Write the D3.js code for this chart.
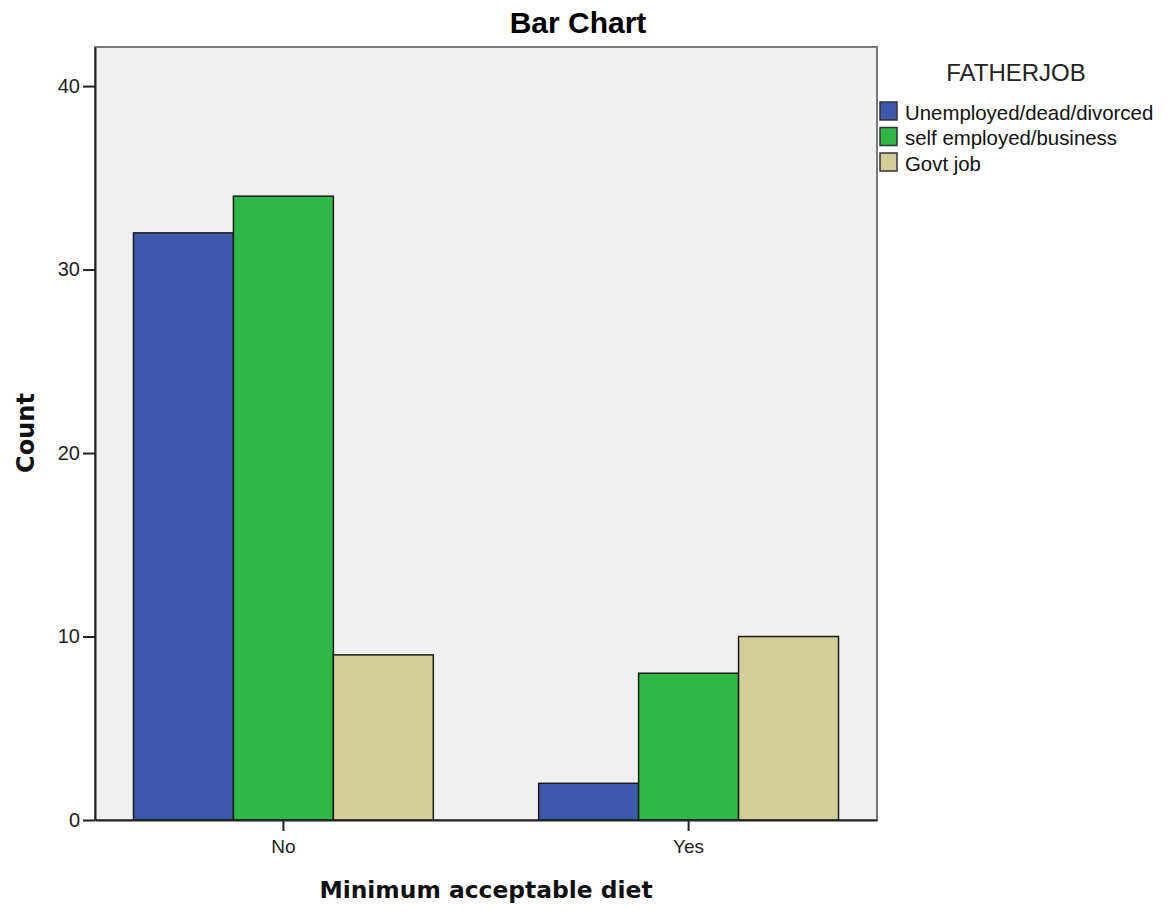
<!DOCTYPE html>
<html><head><meta charset="utf-8">
<script src="https://cdn.jsdelivr.net/npm/d3@7"></script>
<style>body{margin:0;background:#fff;} svg{display:block;}</style>
</head><body>
<svg id="chart" width="1167" height="911"></svg>
<script>
const categories = ["No", "Yes"];
const seriesNames = ["Unemployed/dead/divorced", "self employed/business", "Govt job"];
const unemployed = [32, 2];
const selfEmployed = [34, 8];
const govtJob = [9, 10];
const yTicks = [0, 10, 20, 30, 40];
const colors = ["#3e58ac", "#2eb848", "#d3ce99"];

const seriesValues = [unemployed, selfEmployed, govtJob];
const data = [];
categories.forEach((c, ci) => seriesNames.forEach((s, si) => data.push({cat: c, ser: s, si, v: seriesValues[si][ci]})));

const svg = d3.select("#chart");
const L = 95, R = 877, T = 47, B = 820;

const x = d3.scaleBand().domain(categories).range([L, R]).paddingInner(0.26).paddingOuter(0.095);
const xs = d3.scaleBand().domain(seriesNames).range([0, x.bandwidth()]);
const y = d3.scaleLinear().domain([0, 42.13]).range([B, T]);

svg.append("rect").attr("x", L).attr("y", T).attr("width", R - L).attr("height", B - T)
  .attr("fill", "#f0f0f0").attr("stroke", "#7a7a7a").attr("stroke-width", 2);

svg.append("g").selectAll("rect").data(data).join("rect")
  .attr("x", d => x(d.cat) + xs(d.ser))
  .attr("y", d => y(d.v))
  .attr("width", xs.bandwidth())
  .attr("height", d => B - y(d.v))
  .attr("fill", d => colors[d.si])
  .attr("stroke", "#1a1a1a").attr("stroke-width", 1.5);

const font = "'Liberation Sans', Arial, sans-serif";
const yAxis = svg.append("g").attr("transform", `translate(${L},0)`)
  .call(d3.axisLeft(y).tickValues(yTicks).tickSize(12).tickPadding(3).tickSizeOuter(0));
yAxis.select(".domain").attr("stroke", "#222").attr("stroke-width", 2);
yAxis.selectAll(".tick line").attr("stroke", "#222").attr("stroke-width", 2);
yAxis.selectAll("text").attr("font-family", font).attr("font-size", 20).attr("fill", "#222");

const xAxis = svg.append("g").attr("transform", `translate(0,${B})`)
  .call(d3.axisBottom(x).tickSize(11).tickPadding(9).tickSizeOuter(0));
xAxis.select(".domain").attr("stroke", "#222").attr("stroke-width", 2);
xAxis.selectAll(".tick line").attr("stroke", "#222").attr("stroke-width", 2);
xAxis.selectAll("text").attr("font-family", font).attr("font-size", 19).attr("fill", "#222");

svg.append("text").attr("x", 578).attr("y", 33).attr("text-anchor", "middle")
  .attr("font-family", font).attr("font-weight", "bold").attr("font-size", 30).text("Bar Chart");

const boldFont = "'DejaVu Sans', Verdana, sans-serif";
svg.append("text").attr("x", 486).attr("y", 898).attr("text-anchor", "middle")
  .attr("font-family", boldFont).attr("font-weight", "bold").attr("font-size", 23.4).attr("fill", "#111")
  .text("Minimum acceptable diet");
svg.append("text").attr("transform", "translate(34,433) rotate(-90)").attr("text-anchor", "middle")
  .attr("font-family", boldFont).attr("font-weight", "bold").attr("font-size", 24).attr("fill", "#111")
  .text("Count");

const lg = svg.append("g");
lg.append("text").attr("x", 1016).attr("y", 81).attr("text-anchor", "middle")
  .attr("font-family", font).attr("font-size", 24).attr("fill", "#222").text("FATHERJOB");
const rows = lg.selectAll("g.row").data(seriesNames).join("g").attr("class", "row")
  .attr("transform", (d, i) => `translate(880,${102 + i * 25.5})`);
rows.append("rect").attr("width", 17).attr("height", 18)
  .attr("fill", (d, i) => colors[i]).attr("stroke", "#333").attr("stroke-width", 1.5);
rows.append("text").attr("x", 25).attr("y", 17.5)
  .attr("font-family", font).attr("font-size", 20.4).attr("fill", "#111").text(d => d);
</script>
</body></html>
